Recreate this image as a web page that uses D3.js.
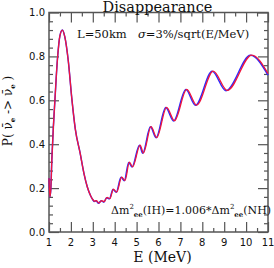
<!DOCTYPE html>
<html>
<head>
<meta charset="utf-8">
<script src="https://cdn.jsdelivr.net/npm/d3@7"></script>
<style>
  body { margin: 0; background: #fff; }
  text { fill: #111; }
</style>
</head>
<body>
<div id="chart"></div>
<script>
// values: [E (MeV), P]
var ihSeries = [
  [1.00, 0.245], [1.04, 0.16], [1.08, 0.19], [1.13, 0.33], [1.20, 0.48],
  [1.27, 0.60], [1.38, 0.78], [1.50, 0.895], [1.61, 0.92], [1.72, 0.89],
  [1.88, 0.78], [2.04, 0.61], [2.20, 0.47], [2.42, 0.36], [2.60, 0.265],
  [2.75, 0.205], [2.90, 0.165], [3.00, 0.148], [3.08, 0.140], [3.16, 0.143],
  [3.28, 0.132], [3.40, 0.143], [3.52, 0.138], [3.65, 0.158], [3.78, 0.152],
  [3.94, 0.195], [4.09, 0.182], [4.32, 0.250], [4.47, 0.235], [4.67, 0.318],
  [4.82, 0.297], [5.16, 0.396], [5.31, 0.360], [5.66, 0.480], [5.92, 0.430],
  [6.37, 0.568], [6.73, 0.507], [7.29, 0.650], [7.74, 0.578], [8.50, 0.733],
  [9.14, 0.645], [10.26, 0.806], [11.00, 0.722]
];
var nhSeries = [
  [1.00, 0.245], [1.04, 0.16], [1.08, 0.19], [1.13, 0.33], [1.20, 0.48],
  [1.27, 0.60], [1.38, 0.78], [1.50, 0.895], [1.61, 0.92], [1.72, 0.89],
  [1.88, 0.78], [2.04, 0.61], [2.20, 0.47], [2.42, 0.36], [2.60, 0.265],
  [2.75, 0.205], [2.90, 0.165], [3.00, 0.147], [3.07, 0.139], [3.15, 0.142],
  [3.26, 0.131], [3.38, 0.142], [3.50, 0.136], [3.63, 0.156], [3.76, 0.151],
  [3.92, 0.194], [4.07, 0.181], [4.29, 0.249], [4.44, 0.234], [4.64, 0.317],
  [4.79, 0.296], [5.13, 0.395], [5.28, 0.359], [5.63, 0.479], [5.89, 0.429],
  [6.33, 0.567], [6.69, 0.506], [7.25, 0.649], [7.69, 0.577], [8.45, 0.732],
  [9.08, 0.644], [10.20, 0.805], [11.00, 0.715]
];
var xTicks = [1, 2, 3, 4, 5, 6, 7, 8, 9, 10, 11];
var yTicks = [0.0, 0.2, 0.4, 0.6, 0.8, 1.0];

var W = 274, H = 268;
var margin = {top: 12.5, right: 6, bottom: 36, left: 49},
    width = W - margin.left - margin.right,
    height = H - margin.top - margin.bottom;

var svg = d3.select("#chart").append("svg")
    .attr("width", W)
    .attr("height", H);

var g = svg.append("g")
    .attr("transform", "translate(" + margin.left + "," + margin.top + ")");

var x = d3.scaleLinear().domain([1, 11]).range([0, width]);
var y = d3.scaleLinear().domain([0, 1]).range([height, 0]);

var axisColor = "#555";
var major = 10, minor = 4;

var xMinor = d3.range(1, 11.01, 0.5).filter(function(d) { return d % 1 !== 0; });
var yMinor = d3.range(0, 1.001, 0.04).filter(function(d) { return Math.abs(d * 5 - Math.round(d * 5)) > 1e-6; });

function tickAxis(axis, vals, size) {
  return axis.tickValues(vals).tickSize(size).tickFormat("");
}

// ticks drawn inward on all four sides
g.append("g").attr("transform", "translate(0," + height + ")")
  .call(tickAxis(d3.axisTop(x), xTicks, major));
g.append("g").attr("transform", "translate(0," + height + ")")
  .call(tickAxis(d3.axisTop(x), xMinor, minor));
g.append("g").call(tickAxis(d3.axisBottom(x), xTicks, major));
g.append("g").call(tickAxis(d3.axisBottom(x), xMinor, minor));
g.append("g").call(tickAxis(d3.axisRight(y), yTicks, major));
g.append("g").call(tickAxis(d3.axisRight(y), yMinor, minor));
g.append("g").attr("transform", "translate(" + width + ",0)")
  .call(tickAxis(d3.axisLeft(y), yTicks, major));
g.append("g").attr("transform", "translate(" + width + ",0)")
  .call(tickAxis(d3.axisLeft(y), yMinor, minor));

g.selectAll(".domain").remove();
g.selectAll(".tick line").attr("stroke", axisColor).attr("stroke-width", 1.2);

g.append("rect")
  .attr("width", width).attr("height", height)
  .attr("fill", "none").attr("stroke", axisColor).attr("stroke-width", 1.5);

// tick labels
g.selectAll(".xlab").data(xTicks).enter().append("text")
  .attr("x", function(d) { return x(d); })
  .attr("y", height + 13.5)
  .attr("text-anchor", "middle")
  .style("font", "10px 'DejaVu Sans'")
  .text(function(d) { return d; });

g.selectAll(".ylab").data(yTicks).enter().append("text")
  .attr("x", -4)
  .attr("y", function(d) { return y(d) + 3.6; })
  .attr("text-anchor", "end")
  .style("font", "10px 'DejaVu Sans'")
  .text(function(d) { return d.toFixed(1); });

// curves
var line = d3.line()
  .x(function(d) { return x(d[0]); })
  .y(function(d) { return y(d[1]); })
  .curve(d3.curveMonotoneX);

g.append("path").datum(nhSeries)
  .attr("d", line).attr("fill", "none")
  .attr("stroke", "#2b2bff").attr("stroke-width", 1.5);
g.append("path").datum(ihSeries)
  .attr("d", line).attr("fill", "none")
  .attr("stroke", "#f0143c").attr("stroke-width", 1.3);

var serif = "'DejaVu Serif'";

svg.append("text")
  .attr("x", 157.5).attr("y", 11.5)
  .attr("text-anchor", "middle")
  .style("font", "14.5px " + serif)
  .text("Disappearance");

svg.append("text")
  .attr("x", 77).attr("y", 38)
  .style("font", "11.5px " + serif)
  .text("L=50km");

var sig = svg.append("text")
  .attr("x", 138).attr("y", 38)
  .style("font", "11.5px " + serif);
sig.append("tspan").style("font-style", "italic").text("σ");
sig.append("tspan").text("=3%/sqrt(E/MeV)");

svg.append("text")
  .attr("x", 162.5).attr("y", 261.5)
  .attr("text-anchor", "middle")
  .style("font", "14px " + serif)
  .text("E (MeV)");

// y label
var yl = svg.append("text")
  .attr("transform", "translate(12,111) rotate(-90)")
  .attr("text-anchor", "middle")
  .style("font", "12px " + serif);
yl.append("tspan").text("P( ν\u0304");
yl.append("tspan").attr("dy", 3).style("font-size", "7px").style("font-weight", "bold").text("e");
yl.append("tspan").attr("dy", -3).text(" -> ν\u0304");
yl.append("tspan").attr("dy", 3).style("font-size", "7px").style("font-weight", "bold").text("e");
yl.append("tspan").attr("dy", -3).text(" )");

// mass splitting note
var dm = svg.append("text")
  .attr("x", 111).attr("y", 214)
  .style("font", "11px " + serif);
function dmPart(t) {
  t.append("tspan").text("Δm");
  t.append("tspan").attr("dy", -5).style("font-size", "7px").text("2");
  t.append("tspan").attr("dy", 8).style("font-size", "7px").style("font-weight", "bold").text("ee");
}
dmPart(dm);
dm.append("tspan").attr("dy", -3).text("(IH)=1.006*");
dmPart(dm);
dm.append("tspan").attr("dy", -3).text("(NH)");
</script>
</body>
</html>
